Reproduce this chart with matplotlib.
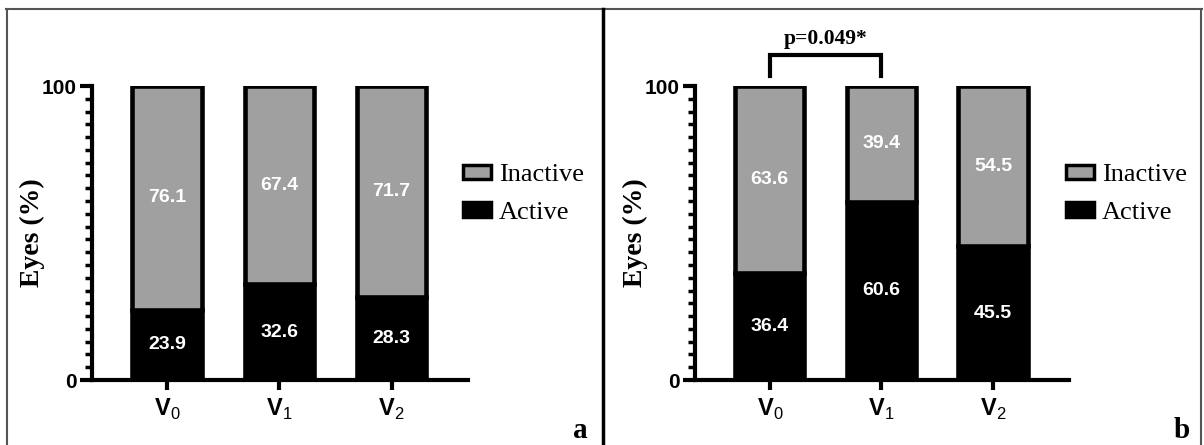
import numpy as np
import matplotlib
matplotlib.use("Agg")
import matplotlib.pyplot as plt
from matplotlib.patches import Patch
from matplotlib.lines import Line2D
from matplotlib.ticker import FixedLocator

plt.rcParams["mathtext.fontset"] = "custom"
plt.rcParams["mathtext.rm"] = "Liberation Sans"
plt.rcParams["mathtext.bf"] = "Liberation Sans:bold"

# data
visits = [r"$\mathbf{V}_\mathrm{0}$", r"$\mathbf{V}_\mathrm{1}$", r"$\mathbf{V}_\mathrm{2}$"]
active_a = [23.9, 32.6, 28.3]
inactive_a = [76.1, 67.4, 71.7]
active_b = [36.4, 60.6, 45.5]
inactive_b = [63.6, 39.4, 54.5]
p_text = "p=0.049*"

W, H = 1204, 445
fig = plt.figure(figsize=(W / 100, H / 100), dpi=100)

SERIF = "Liberation Serif"
SANS = "Liberation Sans"
GRAY = "#a0a0a0"


def px(x0, y0, x1, y1):
    # pixel box (top-left origin) -> figure fraction
    return [x0 / W, 1 - y1 / H, (x1 - x0) / W, (y1 - y0) / H]


def panel(left, right, active, inactive, leg_x):
    ax = fig.add_axes(px(left, 86, right, 380))
    x = np.arange(len(visits))
    w = 0.62
    ax.bar(x, active, w, color="black", edgecolor="black", linewidth=3.3, zorder=2)
    ax.bar(x, inactive, w, bottom=active, color=GRAY, edgecolor="black", linewidth=3.3, zorder=2)
    for i in range(len(x)):
        ax.text(x[i], active[i] / 2, f"{active[i]:.1f}", ha="center", va="center",
                color="white", fontsize=14, fontweight="bold", family=SANS)
        ax.text(x[i], active[i] + inactive[i] / 2, f"{inactive[i]:.1f}", ha="center",
                va="center", color="white", fontsize=14, fontweight="bold", family=SANS)
    ax.set_ylim(0, 100)
    ax.set_xlim(-0.67, 2.68)
    ax.set_yticks([0, 100])
    ax.yaxis.set_minor_locator(FixedLocator(np.linspace(0, 100, 24)))
    ax.set_yticklabels(["0", "100"], fontsize=15, fontweight="bold", family=SANS)
    ax.set_xticks(x)
    ax.set_xticklabels(visits, fontsize=17)
    for s in ["top", "right"]:
        ax.spines[s].set_visible(False)
    for s in ["left", "bottom"]:
        ax.spines[s].set_linewidth(3)
    ax.tick_params(axis="y", which="major", length=9, width=3, pad=2)
    ax.tick_params(axis="y", which="minor", length=5, width=2.5)
    ax.tick_params(axis="x", length=7, width=3, pad=5)
    fig.text((left - 60) / W, 1 - 233 / H, "Eyes (%)", rotation=90, ha="center", va="center",
             fontsize=20, fontweight="bold", family=SERIF)
    handles = [Patch(facecolor=GRAY, edgecolor="black", linewidth=2.5, label="Inactive"),
               Patch(facecolor="black", edgecolor="black", linewidth=2.5, label="Active")]
    fig.legend(handles=handles, loc="center left", bbox_to_anchor=(leg_x / W, 1 - 194 / H),
               frameon=False, prop={"family": SERIF, "size": 19}, handlelength=1.05,
               handleheight=0.45, handletextpad=0.3, labelspacing=0.6, borderpad=0)
    return ax


ax_a = panel(92, 468, active_a, inactive_a, 450)
ax_b = panel(695, 1069, active_b, inactive_b, 1053)

# significance bracket
ax_b.plot([0, 0, 1, 1], [103.5, 110.5, 110.5, 103.5], color="black", lw=3, clip_on=False,
          solid_joinstyle="miter")
ax_b.text(0.5, 112.5, p_text, ha="center", va="bottom", fontsize=15.5, fontweight="bold",
          family=SERIF)

fig.text(580 / W, 1 - 430 / H, "a", ha="center", va="center", fontsize=21,
         fontweight="bold", family=SERIF)
fig.text(1182 / W, 1 - 430 / H, "b", ha="center", va="center", fontsize=21,
         fontweight="bold", family=SERIF)

# panel borders
border = "#555555"
fig.add_artist(Line2D([6 / W, 1202 / W], [1 - 9 / H, 1 - 9 / H], color=border, lw=1.5))
fig.add_artist(Line2D([7 / W, 7 / W], [0, 1 - 9 / H], color=border, lw=1.5))
fig.add_artist(Line2D([1201 / W, 1201 / W], [0, 1 - 9 / H], color=border, lw=1.5))
fig.add_artist(Line2D([603 / W, 603 / W], [0, 1 - 9 / H], color="black", lw=2.5))

fig.savefig("out.png", dpi=100)
